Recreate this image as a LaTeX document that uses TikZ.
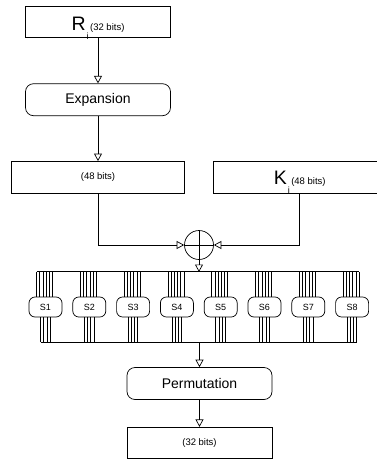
\documentclass[tikz,border=0pt]{standalone}
\usepackage{fontspec}
\setmainfont{Liberation Sans}
\usetikzlibrary{arrows.meta,positioning}

\newcommand{\bigsub}[3]{{\fontsize{19.5}{20}\selectfont #1}\hspace{1pt}\smash{\raisebox{-8.8pt}{\fontsize{9}{10}\selectfont #2}}\hspace{1.5pt}{\fontsize{9.5}{11}\selectfont #3}}

\begin{document}
\begin{tikzpicture}[x=1pt, y=1pt,
    block/.style={draw, line width=0.7pt, minimum width=145pt, minimum height=31pt, inner sep=0pt, align=center},
    wblock/.style={block, minimum width=173pt, minimum height=32pt},
    rblock/.style={block, rounded corners=8pt, minimum height=32pt, font=\fontsize{14}{16}\selectfont},
    sbox/.style={draw, line width=0.7pt, rounded corners=6pt, minimum width=33pt, minimum height=20pt, inner sep=0pt, font=\fontsize{9}{10}\selectfont},
    xor/.style={draw, circle, line width=0.7pt, minimum size=29pt, inner sep=0pt},
    arrow/.style={-{Triangle[open, length=7.5pt, width=8pt]}, line width=0.7pt},
    wire/.style={line width=0.7pt}
]
    \useasboundingbox (0,0) rectangle (376,-459);

    \node[block, minimum height=30.6pt] (ri) at (98,-22) {\rule{0pt}{18.6pt}\bigsub{R}{i}{(32 bits)}};
    \node[rblock, below=45.7pt of ri] (exp) {Expansion};
    \node[wblock, font=\fontsize{9.5}{11}\selectfont, below=45pt of exp] (half) {(48 bits)};
    \node[wblock, right=28pt of half] (key) {\rule{0pt}{16.5pt}\bigsub{K}{i}{(48 bits)}};
    \node[xor] (xor) at (199,-245) {};
    \draw[wire] (xor.north) -- (xor.south) (xor.west) -- (xor.east);

    \foreach \n in {1,...,8} {
        \pgfmathsetmacro\cx{45.5+(\n-1)*43.8}
        \node[sbox] (s\n) at (\cx,-307) {S\n};
        \foreach \k in {0,...,5}
            \draw[wire] ([xshift=-9pt+\k*3.2pt]s\n.north) -- ++(0,25);
        \foreach \k in {0,...,3}
            \draw[wire] ([xshift=-5pt+\k*3.2pt]s\n.south) -- ++(0,-25);
    }
    \draw[wire] ([xshift=-9pt, yshift=25pt]s1.north) -- ([xshift=7pt, yshift=25pt]s8.north);
    \draw[wire] ([xshift=-5pt, yshift=-25pt]s1.south) -- ([xshift=4.6pt, yshift=-25pt]s8.south);

    \node[rblock] (perm) at (199.5,-383.5) {Permutation};
    \node[block, font=\fontsize{9.5}{11}\selectfont, below=27pt of perm] (out) {(32 bits)};

    \coordinate (bustop) at (xor.south |- 0,-272);
    \coordinate (busbot) at (perm.north |- 0,-342);

    \draw[arrow] (ri) -- (exp);
    \draw[arrow] (exp) -- (half);
    \draw[arrow] (half.south) |- (xor.west);
    \draw[arrow] (key.south) |- (xor.east);
    \draw[arrow] (xor.south) -- (bustop);
    \draw[arrow] (busbot) -- (perm.north);
    \draw[arrow] (perm) -- (out);
\end{tikzpicture}
\end{document}
